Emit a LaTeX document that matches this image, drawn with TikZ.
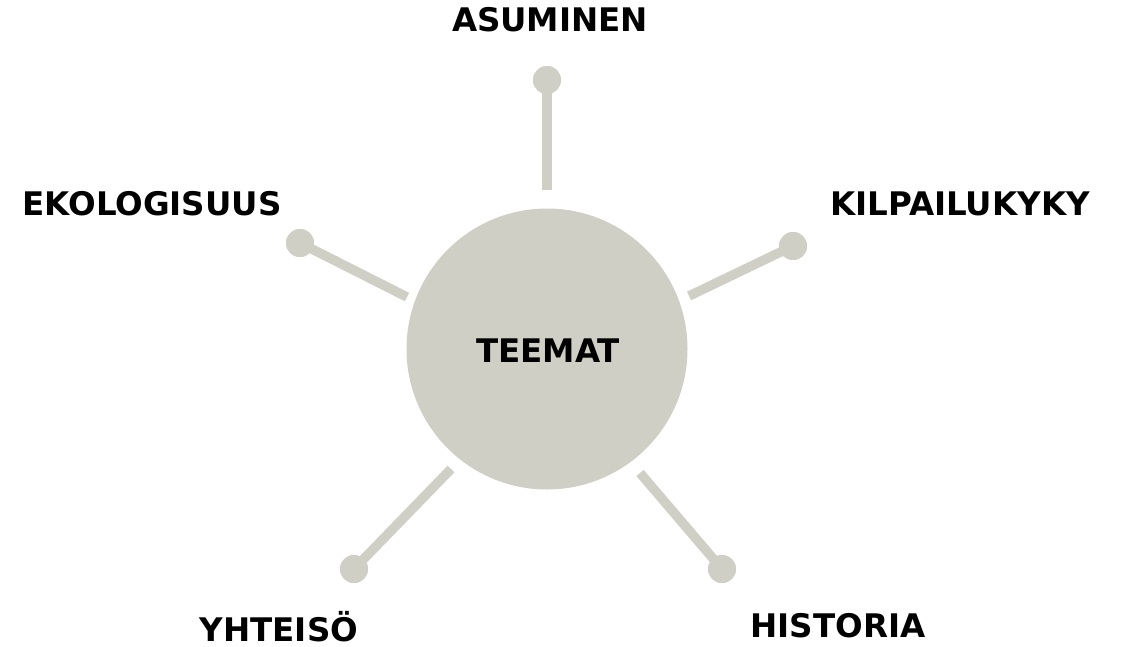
\documentclass[tikz,border=0pt]{standalone}
\usepackage{fontspec}
\setmainfont{DejaVu Sans}
\definecolor{stone}{RGB}{207,207,197}
\begin{document}
\begin{tikzpicture}[x=1pt,y=-1pt,
  lbl/.style={font=\fontsize{32.5}{38}\selectfont\bfseries, anchor=base, inner sep=0pt},
  spoke/.style={draw=stone, line width=9.5pt},
  knob/.style={circle, fill=stone, minimum size=28pt, inner sep=0pt}]
\useasboundingbox (0,0) rectangle (1122,646);
\node[circle, fill=stone, minimum size=281pt, inner sep=0pt] (c) at (547,349) {};
\node[lbl] (t) at (548,362) {TEEMAT};
% knobs
\node[knob] (ka) at (547,80) {};
\node[knob] (ke) at (300,243) {};
\node[knob] (kk) at (793,246) {};
\node[knob] (ky) at (354,569) {};
\node[knob] (kh) at (722,569) {};
% spoke ends
\coordinate (ea) at (547,190);
\coordinate (ee) at (407,297);
\coordinate (ek) at (689,296);
\coordinate (ey) at (451,469);
\coordinate (eh) at (640,473);
\draw[spoke] (ea) -- (ka.center);
\draw[spoke] (ee) -- (ke.center);
\draw[spoke] (ek) -- (kk.center);
\draw[spoke] (ey) -- (ky.center);
\draw[spoke] (eh) -- (kh.center);
\node[knob] at (ka) {};
\node[knob] at (ke) {};
\node[knob] at (kk) {};
\node[knob] at (ky) {};
\node[knob] at (kh) {};
% labels
\node[lbl] (la) at (550,31) {ASUMINEN};
\node[lbl] (le) at (152,215) {EKOLOGISUUS};
\node[lbl] (lk) at (960,215) {KILPAILUKYKY};
\node[lbl] (ly) at (279,641) {YHTEISÖ};
\node[lbl] (lh) at (838,637) {HISTORIA};
\end{tikzpicture}
\end{document}
